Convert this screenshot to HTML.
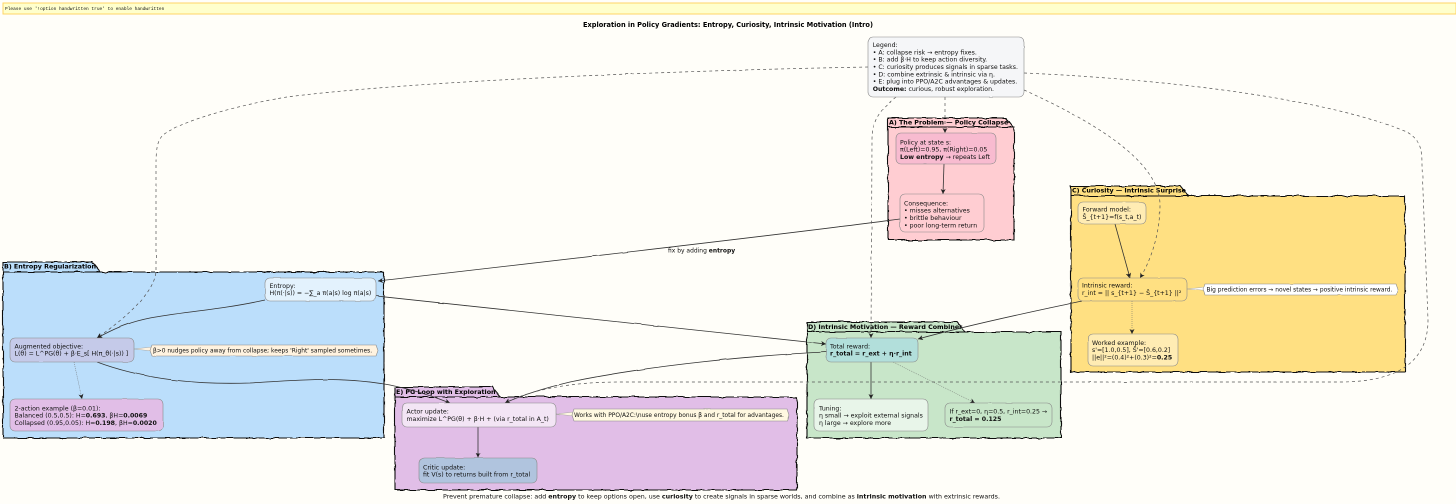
<!DOCTYPE html>
<html><head><meta charset="utf-8"><style>
html,body{margin:0;padding:0;background:#fffef9}
svg{display:block}
text{font-family:"DejaVu Sans","Liberation Sans",sans-serif;font-size:6.23px;fill:#111}
.b{font-weight:bold}
.t{font-weight:bold;font-size:6.33px;fill:#000}
.m{font-size:5.9px}
.g{stroke:#111;stroke-width:1.1}
.n{stroke:#8a8a8a;stroke-width:.6}
.l{fill:none;stroke:#333;stroke-width:.8}
.d{fill:none;stroke:#555;stroke-width:.7;stroke-dasharray:3 3}
.o{fill:none;stroke:#666;stroke-width:.5;stroke-dasharray:1 1}
</style></head><body>
<svg width="1456" height="504" viewBox="0 0 1456 504" xmlns="http://www.w3.org/2000/svg">
<defs>
<filter id="w" filterUnits="userSpaceOnUse" x="0" y="0" width="1456" height="504"><feTurbulence type="fractalNoise" baseFrequency="0.11" numOctaves="2" seed="4"/><feDisplacementMap in="SourceGraphic" scale="3" xChannelSelector="R" yChannelSelector="G"/></filter>
<filter id="s" filterUnits="userSpaceOnUse" x="0" y="0" width="1456" height="504"><feTurbulence type="fractalNoise" baseFrequency="0.06" numOctaves="1" seed="9"/><feDisplacementMap in="SourceGraphic" scale="1.2" xChannelSelector="R" yChannelSelector="G"/></filter>
<marker id="a" markerUnits="userSpaceOnUse" markerWidth="7" markerHeight="7" refX="5" refY="2.5" orient="auto"><path d="M0,0 L5,2.5 L0,5 L1.4,2.5 Z" fill="#222"/></marker>
</defs>
<rect width="1456" height="504" fill="#fffef9"/>
<rect x="3" y="3" width="1453" height="11" fill="#ffffcc" stroke="#ffd466" stroke-width="1"/>
<text x="5" y="10.2" style="font-family:'Liberation Mono',monospace;font-size:4.5px">Please use '!option handwritten true' to enable handwritten</text>
<text x="728" y="27" text-anchor="middle" class="b" style="font-size:6.6px;fill:#000">Exploration in Policy Gradients: Entropy, Curiosity, Intrinsic Motivation (Intro)</text>

<g filter="url(#w)">
<path class="g" fill="#ffcdd2" d="M888,118 H1006 L1013,127 H1014 V240 H888 Z M888,127 H1013"/>
<path class="g" fill="#bbdefb" d="M3,262 H92 L100,272 H384 V438 H3 Z M3,272 H100"/>
<path class="g" fill="#ffe082" d="M1071,186 H1180 L1188,196 H1405 V372 H1071 Z M1071,196 H1188"/>
<path class="g" fill="#c8e6c9" d="M807,322 H957 L965,332 H1061 V438 H807 Z M807,332 H965"/>
<path class="g" fill="#e1bee7" d="M395,387 H492 L500,397 H797 V490 H395 Z M395,397 H500"/>
</g>
<text class="t" x="889" y="124.5">A) The Problem — Policy Collapse</text>
<text class="t" x="4" y="268.5">B) Entropy Regularization</text>
<text class="t" x="1072" y="192.5">C) Curiosity — Intrinsic Surprise</text>
<text class="t" x="808" y="329">D) Intrinsic Motivation — Reward Combiner</text>
<text class="t" x="396" y="394">E) PG Loop with Exploration</text>

<g filter="url(#s)">
<path class="l" marker-end="url(#a)" d="M944,164 L943,194"/>
<path class="l" marker-end="url(#a)" d="M900,219 C780,235 560,260 378,281"/>
<path class="l" marker-end="url(#a)" d="M265,300 C220,310 180,312 150,318 C125,323 110,331 97,338"/>
<path class="l" marker-end="url(#a)" d="M376,296 C460,306 640,325 826,344"/>
<path class="l" marker-end="url(#a)" d="M97,362 C140,378 190,385 250,383 C300,380 340,376 390,385 C415,390 435,397 450,403"/>
<path class="o" marker-end="url(#a)" d="M74,362 L82,399"/>
<path class="l" marker-end="url(#a)" d="M1115,224 L1130,278"/>
<path class="o" marker-end="url(#a)" d="M1132,301 L1132,334"/>
<path class="l" marker-end="url(#a)" d="M1082,301 C1050,308 980,322 918,339"/>
<path class="l" marker-end="url(#a)" d="M871,362 L871,399"/>
<path class="o" marker-end="url(#a)" d="M893,362 L975,403"/>
<path class="l" marker-end="url(#a)" d="M826,352 C760,355 650,365 570,382 C545,388 520,396 505,403"/>
<path class="l" marker-end="url(#a)" d="M478,427 L478,458"/>
<path class="d" d="M868,67 C700,70 420,80 287,97 C255,102 185,118 163,135 C157,141 156,150 156,165 L156,270 C156,290 130,315 97,338" marker-end="url(#a)"/>
<path class="d" d="M896,97 C880,110 872,120 872,140 L871,338" marker-end="url(#a)"/>
<path class="d" d="M945,97 L945,133" marker-end="url(#a)"/>
<path class="d" d="M1024,90 C1090,120 1160,160 1160,205 C1160,235 1150,262 1140,278" marker-end="url(#a)"/>
<path class="d" d="M1024,73 C1180,80 1330,100 1407,132 C1420,140 1422,148 1422,165 L1428,320 C1428,360 1400,382 1340,382 L620,382 C570,382 530,390 505,403" marker-end="url(#a)"/>
<path d="M134,349 L152,351 L152,347 Z" fill="#fff3e0" stroke="#999" stroke-width=".4"/>
<path d="M556,414 L574,416 L574,412 Z" fill="#fff8e1" stroke="#999" stroke-width=".4"/>
<path d="M1187,289 L1206,291 L1206,287 Z" fill="#fff" stroke="#999" stroke-width=".4"/>
</g>
<text x="668" y="252.5" style="font-size:5.97px">fix by adding <tspan class="b">entropy</tspan></text>

<g filter="url(#s)">
<rect class="n" x="868" y="37" width="156" height="60" rx="5" fill="#f5f6f8"/>
<rect class="n" x="896" y="133" width="100" height="31" rx="5" fill="#f8bbd0"/>
<rect class="n" x="900" y="194" width="84" height="38" rx="5" fill="#ffcdd2"/>
<rect class="n" x="265" y="278" width="111" height="23" rx="5" fill="#e3f2fd"/>
<rect class="n" x="10" y="338" width="124" height="24" rx="5" fill="#c5cae9"/>
<rect class="n" x="10" y="399" width="153" height="32" rx="5" fill="#e1bee7"/>
<rect class="n" x="402" y="403" width="154" height="24" rx="5" fill="#f3e5f5"/>
<rect class="n" x="419" y="458" width="118" height="25" rx="5" fill="#b0c4de"/>
<rect class="n" x="826" y="338" width="92" height="24" rx="5" fill="#b2dfdb"/>
<rect class="n" x="814" y="399" width="114" height="32" rx="5" fill="#e8f5e9"/>
<rect class="n" x="945" y="403" width="107" height="24" rx="5" fill="#c8e6c9"/>
<rect class="n" x="1078" y="202" width="68" height="22" rx="5" fill="#ffecb3"/>
<rect class="n" x="1078" y="278" width="109" height="23" rx="5" fill="#ffe082"/>
<rect class="n" x="1088" y="334" width="90" height="32" rx="5" fill="#ffecb3"/>
<path class="n" d="M152,345 H376 L378,350.500 L376,356 H152 L150,350.500 Z" fill="#fff3e0"/>
<path class="n" d="M574,409 H787 L789,415 L787,421 H574 L572,415 Z" fill="#fff8e1"/>
<path class="n" d="M1205,284 H1396 L1398,289.500 L1396,295 H1205 L1203,289.500 Z" fill="#ffffff"/>
</g>

<text x="872.700" y="47">Legend:</text>
<text x="872.700" y="54.300">• A: collapse risk → entropy fixes.</text>
<text x="872.700" y="61.700">• B: add β·H to keep action diversity.</text>
<text x="872.700" y="69">• C: curiosity produces signals in sparse tasks.</text>
<text x="872.700" y="76.300">• D: combine extrinsic &amp; intrinsic via η.</text>
<text x="872.700" y="83.700">• E: plug into PPO/A2C advantages &amp; updates.</text>
<text x="872.700" y="91"><tspan class="b">Outcome:</tspan> curious, robust exploration.</text>

<text x="900" y="144.300">Policy at state s:</text>
<text x="900" y="151.600">π(Left)=0.95, π(Right)=0.05</text>
<text x="900" y="159"><tspan class="b">Low entropy</tspan> → repeats Left</text>

<text x="904" y="205.300">Consequence:</text>
<text x="904" y="212.600">• misses alternatives</text>
<text x="904" y="220">• brittle behaviour</text>
<text x="904" y="227.300">• poor long-term return</text>

<text x="269.500" y="287.800">Entropy:</text>
<text x="269.500" y="295.100">H(π(·|s)) = −∑_a π(a|s) log π(a|s)</text>

<text x="14.500" y="348.300">Augmented objective:</text>
<text x="14.500" y="355.600">L(θ) = L^PG(θ) + β·E_s[ H(π_θ(·|s)) ]</text>
<text x="153" y="352.600" class="m">β&gt;0 nudges policy away from collapse; keeps 'Right' sampled sometimes.</text>

<text x="14.500" y="410.300">2-action example (β=0.01):</text>
<text x="14.500" y="417.600">Balanced (0.5,0.5): H=<tspan class="b">0.693</tspan>, βH=<tspan class="b">0.0069</tspan></text>
<text x="14.500" y="425">Collapsed (0.95,0.05): H=<tspan class="b">0.198</tspan>, βH=<tspan class="b">0.0020</tspan></text>

<text x="406.500" y="413.600">Actor update:</text>
<text x="406.500" y="421">maximize L^PG(θ) + β·H + (via r_total in A_t)</text>
<text x="574" y="417" class="m">Works with PPO/A2C:\nuse entropy bonus β and r_total for advantages.</text>

<text x="423" y="469.300">Critic update:</text>
<text x="423" y="476.600">fit V(s) to returns built from r_total</text>

<text x="830" y="348.300">Total reward:</text>
<text x="830" y="355.600" class="b">r_total = r_ext + η·r_int</text>

<text x="819" y="410.300">Tuning:</text>
<text x="819" y="417.600">η small → exploit external signals</text>
<text x="819" y="425">η large → explore more</text>

<text x="949.500" y="413.600">If r_ext=0, η=0.5, r_int=0.25 →</text>
<text x="949.500" y="421" class="b">r_total = 0.125</text>

<text x="1082.500" y="211.600">Forward model:</text>
<text x="1082.500" y="219">Ŝ_{t+1}=f(s_t,a_t)</text>

<text x="1082" y="287.600">Intrinsic reward:</text>
<text x="1082" y="295">r_int = || s_{t+1} − Ŝ_{t+1} ||²</text>
<text x="1206.500" y="291.600" class="m">Big prediction errors → novel states → positive intrinsic reward.</text>

<text x="1092" y="344.800">Worked example:</text>
<text x="1092" y="352.100">s'=[1.0,0.5], Ŝ'=[0.6,0.2]</text>
<text x="1092" y="359.500">||e||²=(0.4)²+(0.3)²=<tspan class="b">0.25</tspan></text>

<text x="721.500" y="498.300" text-anchor="middle" style="font-size:6.32px">Prevent premature collapse: add <tspan class="b">entropy</tspan> to keep options open, use <tspan class="b">curiosity</tspan> to create signals in sparse worlds, and combine as <tspan class="b">intrinsic motivation</tspan> with extrinsic rewards.</text>
</svg>
</body></html>
